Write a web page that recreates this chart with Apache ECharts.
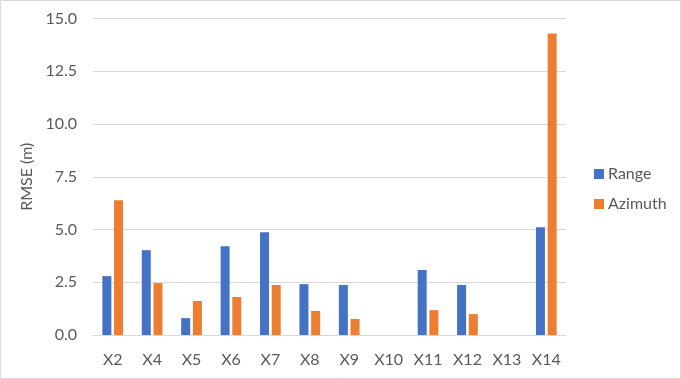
<!DOCTYPE html>
<html><head><meta charset="utf-8">
<script src="https://cdn.jsdelivr.net/npm/echarts@6/dist/echarts.min.js"></script>
<style>html,body{margin:0;padding:0;background:#fff}#c{width:681px;height:379px}</style>
</head><body><div id="c"></div>
<script>
const categories = ['X2','X4','X5','X6','X7','X8','X9','X10','X11','X12','X13','X14'];
const rangeValues = [2.79, 4.02, 0.80, 4.21, 4.87, 2.41, 2.37, null, 3.08, 2.37, null, 5.11];
const azimuthValues = [6.39, 2.46, 1.61, 1.80, 2.37, 1.14, 0.76, null, 1.18, 0.99, null, 14.29];
const seriesNames = ['Range', 'Azimuth'];
const yTicks = ['0.0','2.5','5.0','7.5','10.0','12.5','15.0'];

const font = 'Lato, "Liberation Sans", sans-serif';
const chart = echarts.init(document.getElementById('c'), null, {renderer:'canvas'});
chart.setOption({
  animation: false,
  backgroundColor: '#fff',
  graphic: [{type:'rect', shape:{x:0.5,y:0.5,width:680,height:378}, style:{fill:'none', stroke:'#d9d9d9', lineWidth:1}, silent:true}],
  grid: {left: 93, right: 115, top: 18.5, bottom: 44},
  legend: {
    orient: 'vertical', left: 589, top: 161, itemWidth: 10, itemHeight: 10, itemGap: 14,
    icon: 'rect',
    textStyle: {fontFamily: font, fontSize: 16, color: '#595959', padding:[0,0,0,-1]},
    data: seriesNames
  },
  xAxis: {
    type: 'category', data: categories,
    axisLine: {lineStyle: {color: '#d9d9d9'}}, axisTick: {show: false},
    axisLabel: {fontFamily: font, fontSize: 16, color: '#595959', margin: 17}
  },
  yAxis: {
    type: 'value', min: 0, max: 15, interval: 2.5,
    name: 'RMSE (m)', nameLocation: 'middle', nameGap: 56, nameRotate: 90,
    nameTextStyle: {fontFamily: font, fontSize: 16, color: '#595959'},
    axisLine: {show: false}, axisTick: {show: false},
    axisLabel: {fontFamily: font, fontSize: 16, color: '#595959', margin: 16,
      formatter: v => yTicks[Math.round(v/2.5)] },
    splitLine: {lineStyle: {color: '#d9d9d9'}}
  },
  series: [
    {name: seriesNames[0], type: 'bar', data: rangeValues, itemStyle: {color: '#4472C4'}, barWidth: 9, barGap: '30%'},
    {name: seriesNames[1], type: 'bar', data: azimuthValues, itemStyle: {color: '#ED7D31'}, barWidth: 9, barGap: '30%'}
  ]
});
</script></body></html>
